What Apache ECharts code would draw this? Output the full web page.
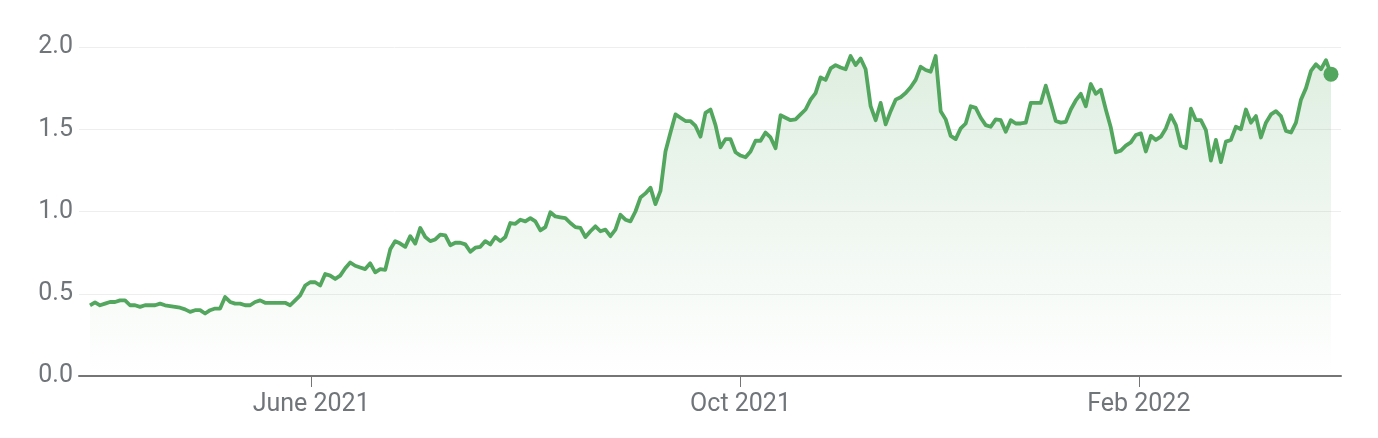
<!DOCTYPE html>
<html>
<head>
<meta charset="utf-8">
<script src="https://cdn.jsdelivr.net/npm/echarts@6/dist/echarts.min.js"></script>
<style>
  html, body { margin: 0; padding: 0; background: #ffffff; }
  #chart { width: 1378px; height: 438px; }
</style>
</head>
<body>
<div id="chart"></div>
<script>
// Daily closing values (one per trading session)
const prices = [
  0.43, 0.448, 0.43, 0.44, 0.45, 0.45, 0.46, 0.46, 0.43, 0.43,
  0.42, 0.43, 0.43, 0.43, 0.44, 0.43, 0.425, 0.42, 0.415, 0.405,
  0.39, 0.40, 0.40, 0.38, 0.40, 0.41, 0.41, 0.48, 0.45, 0.44,
  0.44, 0.43, 0.43, 0.45, 0.46, 0.445, 0.445, 0.445, 0.445, 0.445,
  0.43, 0.46, 0.49, 0.55, 0.57, 0.57, 0.55, 0.62, 0.61, 0.59,
  0.61, 0.655, 0.69, 0.67, 0.66, 0.65, 0.685, 0.63, 0.65, 0.645,
  0.77, 0.82, 0.805, 0.785, 0.85, 0.805, 0.90, 0.845, 0.82, 0.83,
  0.86, 0.855, 0.795, 0.81, 0.81, 0.80, 0.755, 0.78, 0.785, 0.82,
  0.80, 0.845, 0.82, 0.845, 0.93, 0.925, 0.95, 0.94, 0.96, 0.94,
  0.885, 0.905, 0.995, 0.97, 0.965, 0.96, 0.93, 0.905, 0.90, 0.845,
  0.88, 0.91, 0.88, 0.89, 0.85, 0.89, 0.98, 0.95, 0.94, 1.0,
  1.085, 1.11, 1.145, 1.045, 1.125, 1.365, 1.48, 1.59, 1.57, 1.55,
  1.55, 1.52, 1.455, 1.60, 1.62, 1.525, 1.39, 1.44, 1.44, 1.36,
  1.34, 1.33, 1.365, 1.43, 1.43, 1.48, 1.45, 1.385, 1.585, 1.57,
  1.555, 1.56, 1.59, 1.62, 1.68, 1.72, 1.815, 1.80, 1.87, 1.89,
  1.875, 1.865, 1.945, 1.89, 1.93, 1.865, 1.64, 1.555, 1.66, 1.53,
  1.61, 1.68, 1.695, 1.72, 1.755, 1.80, 1.88, 1.86, 1.85, 1.945,
  1.61, 1.56, 1.46, 1.44, 1.505, 1.535, 1.64, 1.63, 1.57, 1.525,
  1.515, 1.56, 1.555, 1.485, 1.555, 1.535, 1.535, 1.54, 1.66, 1.66,
  1.66, 1.765, 1.66, 1.55, 1.54, 1.545, 1.62, 1.675, 1.715, 1.64,
  1.775, 1.715, 1.74, 1.62, 1.51, 1.36, 1.37, 1.40, 1.42, 1.465,
  1.475, 1.365, 1.46, 1.435, 1.455, 1.505, 1.585, 1.525, 1.40, 1.385,
  1.625, 1.555, 1.555, 1.495, 1.31, 1.435, 1.30, 1.425, 1.435, 1.515,
  1.50, 1.62, 1.54, 1.58, 1.45, 1.54, 1.59, 1.61, 1.58, 1.49,
  1.48, 1.54, 1.68, 1.75, 1.855, 1.895, 1.865, 1.92, 1.835
];

// Month tick labels and the session index where each month starts
const tickLabels = ['June 2021', 'Oct 2021', 'Feb 2022'];
const tickIndex = [44.2, 130, 209.6];

// Y axis ticks
const yTicks = [0, 0.5, 1.0, 1.5, 2.0];

const lineData = prices.map((v, i) => [i, v]);
const lastPoint = [prices.length - 1, prices[prices.length - 1]];

const green = '#53a65e';
const chart = echarts.init(document.getElementById('chart'), null, { renderer: 'canvas' });

chart.setOption({
  animation: false,
  backgroundColor: '#ffffff',
  grid: { left: 79, right: 37, top: 47, bottom: 62, containLabel: false },
  xAxis: {
    type: 'value',
    min: -2.2,
    max: prices.length - 1 + 2,
    splitLine: { show: false },
    axisLine: { show: true, onZero: false, lineStyle: { color: '#757575', width: 2 } },
    axisTick: {
      show: true,
      customValues: tickIndex,
      length: 11,
      lineStyle: { color: '#757575', width: 1 }
    },
    axisLabel: {
      customValues: tickIndex,
      margin: 16,
      color: '#70757a',
      fontFamily: 'Roboto',
      fontSize: 25,
      formatter: function (val) {
        const k = tickIndex.findIndex(t => Math.abs(t - val) < 1e-6);
        return k >= 0 ? tickLabels[k] : '';
      }
    }
  },
  yAxis: {
    type: 'value',
    min: yTicks[0],
    max: yTicks[yTicks.length - 1],
    interval: 0.5,
    axisLine: { show: false },
    axisTick: { show: false },
    splitLine: { show: true, lineStyle: { color: '#eeeeee', width: 1 } },
    axisLabel: {
      margin: 6,
      color: '#70757a',
      fontFamily: 'Roboto',
      fontSize: 25,
      formatter: v => v.toFixed(1)
    }
  },
  series: [
    {
      type: 'line',
      data: lineData,
      showSymbol: false,
      symbol: 'none',
      smooth: false,
      lineStyle: { color: green, width: 3.8, join: 'round' },
      areaStyle: {
        color: new echarts.graphic.LinearGradient(0, 0, 0, 1, [
          { offset: 0, color: 'rgba(83,166,94,0.27)' },
          { offset: 1, color: 'rgba(83,166,94,0.0)' }
        ])
      },
      z: 2
    },
    {
      type: 'scatter',
      data: [lastPoint],
      symbol: 'circle',
      symbolSize: 15,
      itemStyle: { color: green, opacity: 1 },
      z: 3
    }
  ]
});
</script>
</body>
</html>
